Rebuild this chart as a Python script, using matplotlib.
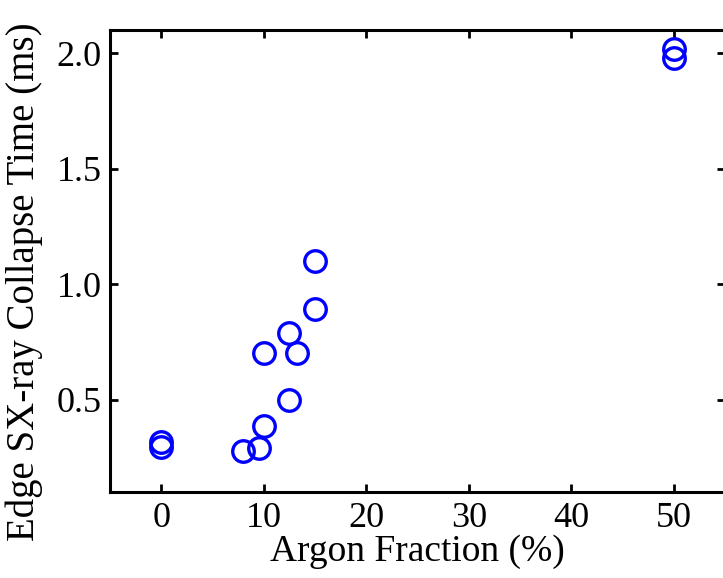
import matplotlib
matplotlib.use("Agg")
import matplotlib.pyplot as plt

# Argon fraction (%) vs edge SX-ray collapse time (ms)
argon_frac = [0, 0, 8, 9.5, 10, 12.5, 10, 12.5, 13.2, 15, 15, 50, 50]
collapse_time = [0.315, 0.295, 0.275, 0.29, 0.385, 0.5, 0.70, 0.79, 0.70, 0.89, 1.10, 2.02, 1.98]

x_ticks = [0, 10, 20, 30, 40, 50]
y_ticks = [0.5, 1.0, 1.5, 2.0]

plt.rcParams['font.family'] = ['Liberation Serif', 'DejaVu Serif']

fig = plt.figure(figsize=(7.23, 5.78), dpi=100)
ax = fig.add_axes([0.152, 0.149, 0.851, 0.799])

ax.plot(argon_frac, collapse_time, 'o', markersize=15.5, markerfacecolor='none',
        markeredgecolor='#0000ff', markeredgewidth=2.4, linestyle='none')

ax.set_xlim(-5, 55)
ax.set_ylim(0.1, 2.1)
ax.set_xticks(x_ticks)
ax.set_yticks(y_ticks)
ax.set_yticklabels(['%.1f' % v for v in y_ticks])

ax.tick_params(direction='in', top=True, right=True, length=6, width=2,
               labelsize=26)
ax.tick_params(axis='x', pad=7)
ax.tick_params(axis='y', pad=6)
for s in ax.spines.values():
    s.set_linewidth(2.2)

ax.set_xlabel('Argon Fraction (%)', fontsize=27, labelpad=0)
ax.set_ylabel('Edge SX-ray Collapse Time (ms)', fontsize=28, labelpad=9)
ax.yaxis.set_label_coords(-0.108, 0.455)

fig.savefig('out.png', dpi=100)
